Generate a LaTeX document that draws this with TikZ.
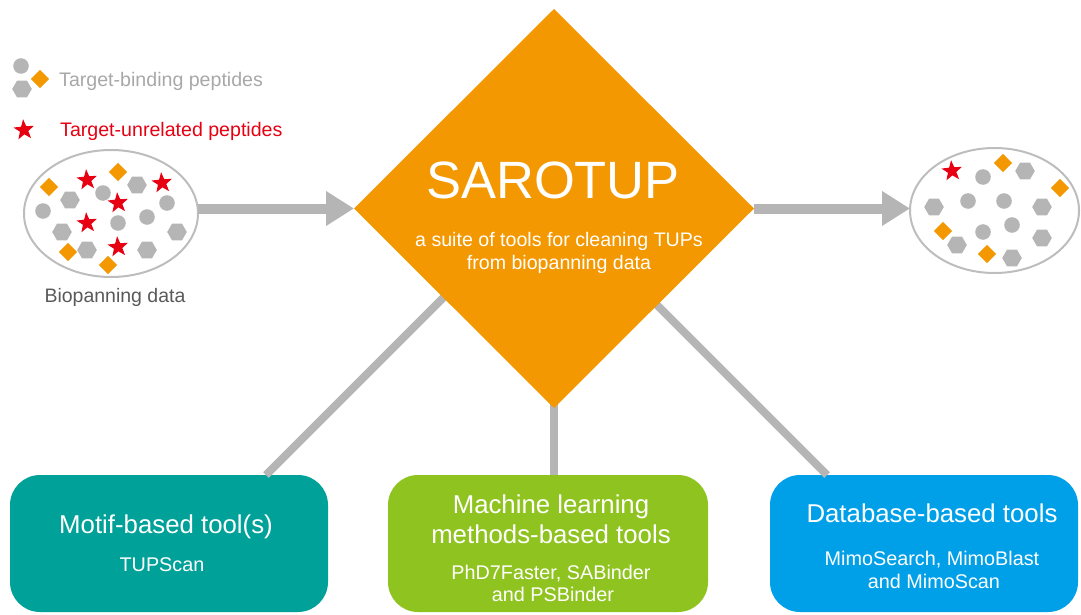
\documentclass[tikz,border=0pt]{standalone}
\usepackage{fontspec}
\setmainfont{Liberation Sans}
\usetikzlibrary{shapes.geometric,arrows.meta,calc}

\definecolor{sarorange}{HTML}{F39800}
\definecolor{motifteal}{HTML}{00A199}
\definecolor{mlgreen}{HTML}{8FC31F}
\definecolor{dbblue}{HTML}{00A0E9}
\definecolor{pepred}{HTML}{E60012}
\definecolor{pepgray}{HTML}{B5B5B5}
\definecolor{linkgray}{HTML}{B5B5B5}
\definecolor{poolgray}{HTML}{BDBDBD}
\definecolor{legendgray}{HTML}{A8A8A8}
\definecolor{captiongray}{HTML}{595959}

% peptide glyphs
\newcommand\pepcirc[2]{\fill[pepgray] (#1,#2) circle (7.8pt);}
\newcommand\pephex[2]{\fill[pepgray] (#1,#2) +(0:9.8pt) -- +(60:9.8pt) -- +(120:9.8pt) -- +(180:9.8pt) -- +(240:9.8pt) -- +(300:9.8pt) -- cycle;}
\newcommand\pepdia[2]{\fill[sarorange] (#1,#2) +(0:9.2pt) -- +(90:9.2pt) -- +(180:9.2pt) -- +(270:9.2pt) -- cycle;}
\newcommand\pepstar[2]{\fill[pepred] (#1,#2) +(95:10.8pt) -- +(131:4.4pt) -- +(167:10.8pt) -- +(203:4.4pt) -- +(239:10.8pt) -- +(275:4.4pt) -- +(311:10.8pt) -- +(347:4.4pt) -- +(23:10.8pt) -- +(59:4.4pt) -- cycle;}

\begin{document}
\begin{tikzpicture}[x=1pt,y=-1pt,
  pool/.style={draw=poolgray, line width=2pt, ellipse, inner sep=0pt, outer sep=0pt},
  flow/.style={draw=linkgray, line width=10pt, -{Triangle[length=28pt,width=33pt]}},
  link/.style={draw=linkgray, line width=8pt},
  toolbox/.style={rounded corners=30pt, minimum height=137pt, inner sep=0pt, outer sep=0pt},
  title/.style={text=white, font=\fontsize{25.8}{30}\selectfont, inner sep=0pt},
  tools/.style={text=white, font=\fontsize{19.8}{23}\selectfont, inner sep=0pt},
  small/.style={font=\fontsize{19.6}{23}\selectfont, inner sep=0pt}]

\useasboundingbox (0,0) rectangle (1081,615);

% ---- core nodes
\node[diamond, minimum width=400pt, minimum height=399pt, inner sep=0pt, outer sep=0pt] (dia) at (554,208.5) {};
\node[pool, minimum width=174pt, minimum height=127pt] (pool1) at (111,213.5) {};
\node[pool, minimum width=169pt, minimum height=125pt] (pool2) at (994.5,210.5) {};
\node[toolbox, fill=motifteal, minimum width=318pt] (box1) at (169,543.5) {};
\node[toolbox, fill=mlgreen, minimum width=320pt] (box2) at (548,543.5) {};
\node[toolbox, fill=dbblue, minimum width=308pt] (box3) at (924,543.5) {};

% ---- connectors (drawn under the diamond)
\draw[flow] (dia.west -| pool1.east) -- (dia.west);
\draw[flow] (dia.east) -- (dia.east -| pool2.west);
\draw[link] ([xshift=97pt]box1.north) -- ++(190,-190);
\draw[link] ([yshift=12pt]dia.south) -- (dia.south |- box2.north);
\draw[link] ([xshift=-97pt]box3.north) -- ++(-190,-190);

% ---- SAROTUP diamond
\fill[sarorange] (dia.north) -- (dia.east) -- (dia.south) -- (dia.west) -- cycle;
\node[text=white, font=\fontsize{52.5}{60}\selectfont, inner sep=0pt, anchor=base] (saro) at (553,198) {SAROTUP};
\node[text=white, font=\fontsize{19.6}{23}\selectfont, inner sep=0pt, anchor=base] (suite1) at (559,246) {a suite of tools for cleaning TUPs};
\node[text=white, font=\fontsize{19.6}{23}\selectfont, inner sep=0pt, anchor=base] (suite2) at (559,269) {from biopanning data};

% ---- legend
\pepcirc{21}{66}
\pephex{22}{89}
\pepdia{40}{79}
\node[small, text=legendgray, anchor=base west] (leg1) at (59,86.5) {Target-binding peptides};
\pepstar{24}{130}
\node[small, text=pepred, anchor=base west] (leg2) at (60,136) {Target-unrelated peptides};

% ---- raw biopanning pool
\pepdia{49}{187}
\pepstar{87}{180}
\pepdia{118}{172}
\pephex{137}{185}
\pepstar{162}{183}
\pephex{70}{200}
\pepcirc{103}{193}
\pepstar{118}{203}
\pepcirc{167}{203}
\pepcirc{43}{211}
\pepcirc{147}{217}
\pepstar{87}{223}
\pepcirc{118}{223}
\pephex{177}{232}
\pephex{62}{232}
\pephex{87}{250}
\pepdia{68}{252}
\pepstar{118}{247}
\pephex{147}{250}
\pepdia{108}{265}
\node[small, font=\fontsize{19.5}{23}\selectfont, text=captiongray, anchor=base] (cap1) at (115,302) {Biopanning data};

% ---- cleaned pool
\pepstar{952}{171}
\pepcirc{983}{177}
\pepdia{1003}{163}
\pephex{1025}{171}
\pepdia{1060}{188}
\pepcirc{968}{201}
\pepcirc{1004}{201}
\pephex{934}{207}
\pephex{1042}{207}
\pepcirc{1012}{225}
\pepdia{943}{231}
\pepcirc{983}{232}
\pephex{957}{245}
\pephex{1042}{238}
\pepdia{987}{254}
\pephex{1012}{258}

% ---- tool families
\node[title, anchor=base] (t1) at (166,533) {Motif-based tool(s)};
\node[tools, anchor=base] (s1) at (162,571) {TUPScan};

\node[title, anchor=base] (t2a) at (551,513) {Machine learning};
\node[title, anchor=base] (t2b) at (551,543) {methods-based tools};
\node[tools, anchor=base] (s2a) at (551,579) {PhD7Faster, SABinder};
\node[tools, anchor=base] (s2b) at (553,601) {and PSBinder};

\node[title, anchor=base] (t3) at (932,522) {Database-based tools};
\node[tools, anchor=base] (s3a) at (932,565) {MimoSearch, MimoBlast};
\node[tools, anchor=base] (s3b) at (934,588) {and MimoScan};
\end{tikzpicture}
\end{document}
